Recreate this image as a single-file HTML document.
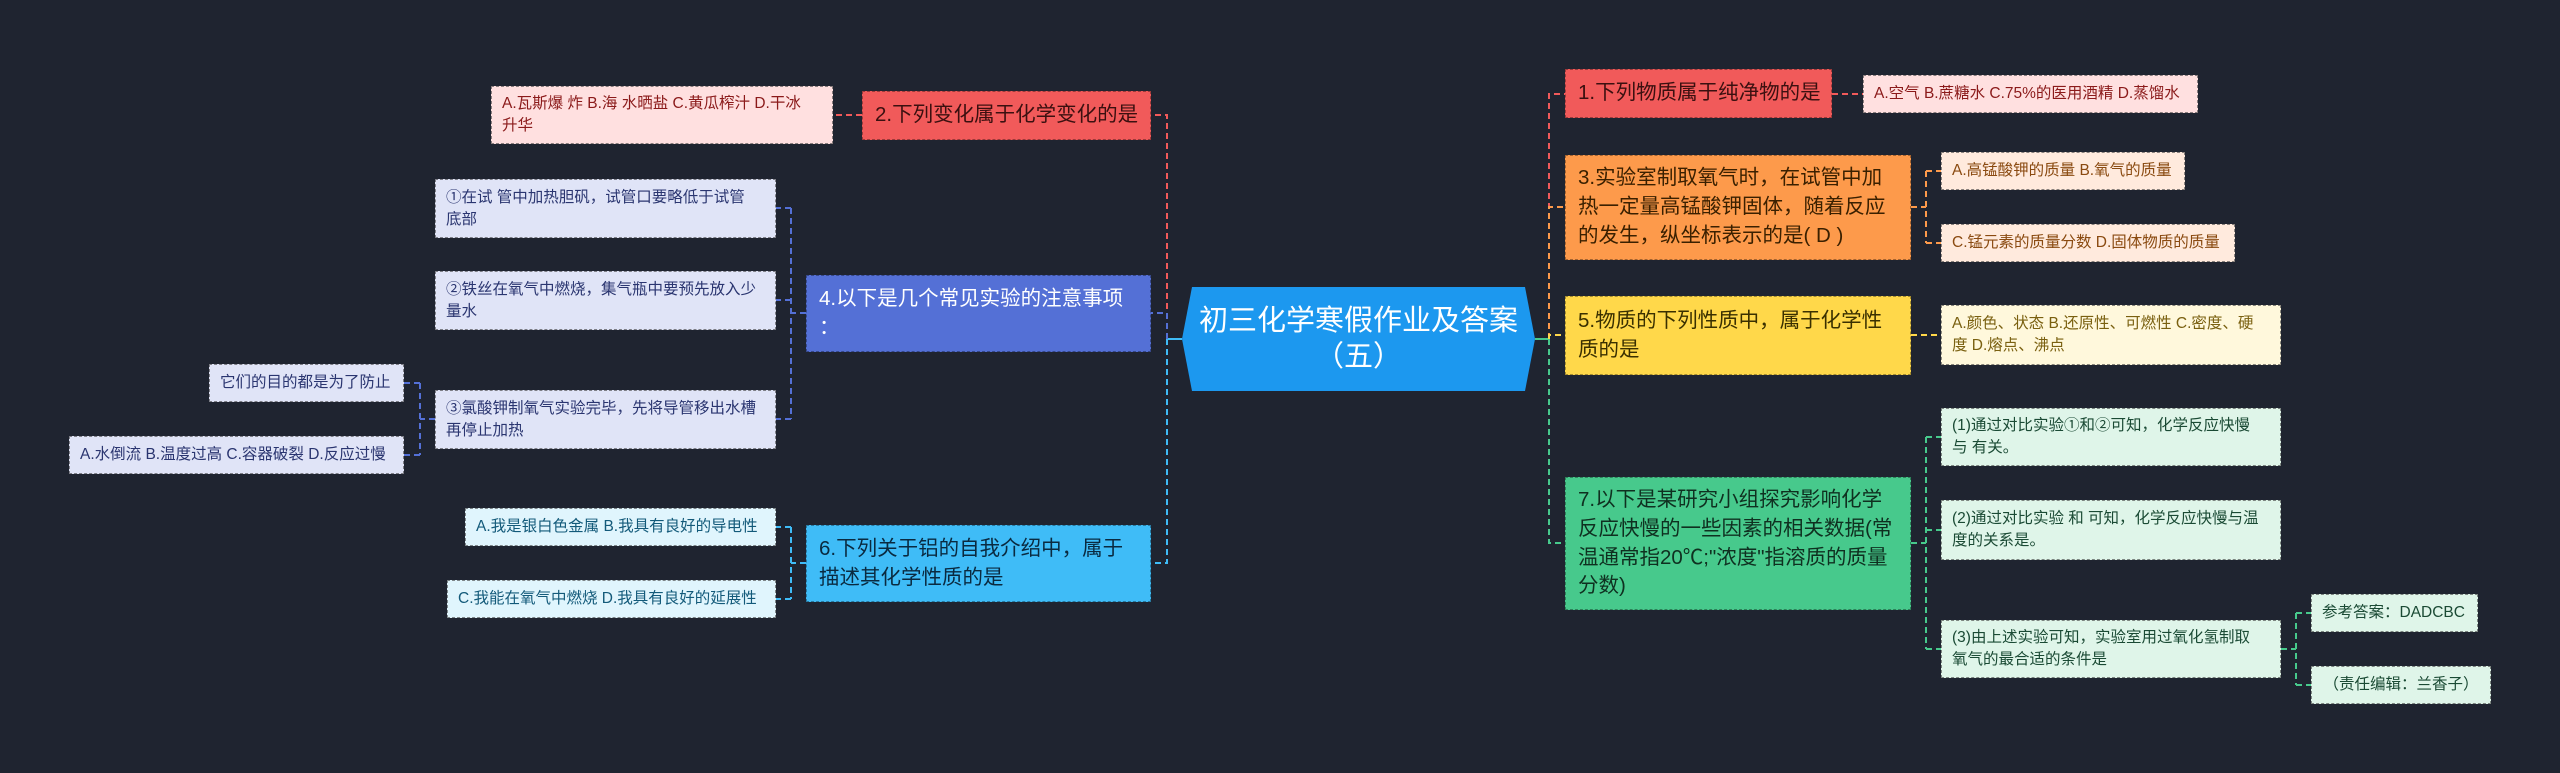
<!DOCTYPE html>
<html><head><meta charset="utf-8"><style>
html,body{margin:0;padding:0}
body{width:2560px;height:773px;background:#1f2430;position:relative;overflow:hidden;font-family:"Liberation Sans","Noto Sans CJK SC",sans-serif}
.b{position:absolute;box-sizing:border-box;padding:8px 12px;display:flex;align-items:center;line-height:1.4;white-space:nowrap;overflow:hidden}
.n{font-size:20.5px;border:1.5px dashed rgba(0,0,0,.35)}
.l{font-size:15.5px;border:1.5px dashed rgba(60,60,60,.6);line-height:1.4;padding:6px 10px}
svg{position:absolute;left:0;top:0}
</style></head><body>
<svg width="2560" height="773" fill="none" stroke-width="2" stroke-dasharray="6,4">
<path d="M1535 339 H1549" stroke="#47c98c" stroke-dasharray="none"/>
<path d="M1549 339 V94 H1565" stroke="#f15a5a"/>
<path d="M1549 339 V207 H1565" stroke="#fd9a4b"/>
<path d="M1549 339 V335 H1565" stroke="#ffd84a"/>
<path d="M1549 339 V543 H1565" stroke="#47c98c"/>
<path d="M1182 339 H1167" stroke="#3fbcf7" stroke-dasharray="none"/>
<path d="M1167 339 V115 H1151" stroke="#f15a5a"/>
<path d="M1167 339 V313 H1151" stroke="#5470d6"/>
<path d="M1167 339 V563 H1151" stroke="#3fbcf7"/>
<path d="M1832 94 H1863" stroke="#f15a5a"/>
<path d="M1911 207 H1926 M1926 171 V243 M1926 171 H1941 M1926 243 H1941" stroke="#fd9a4b"/>
<path d="M1911 335 H1941" stroke="#ffd84a"/>
<path d="M1911 543 H1926 M1926 437 V649 M1926 437 H1941 M1926 530 H1941 M1926 649 H1941" stroke="#47c98c"/>
<path d="M2281 649 H2296 M2296 613 V685 M2296 613 H2311 M2296 685 H2311" stroke="#47c98c"/>
<path d="M862 115 H833" stroke="#f15a5a"/>
<path d="M806 313 H791 M791 208 V419 M791 208 H776 M791 300 H776 M791 419 H776" stroke="#5470d6"/>
<path d="M435 419 H420 M420 383 V455 M420 383 H404 M420 455 H404" stroke="#5470d6"/>
<path d="M806 563 H791 M791 527 V599 M791 527 H776 M791 599 H776" stroke="#3fbcf7"/>
<polygon points="1192,287 1525,287 1535,339 1525,391 1192,391 1182,339" fill="#1c98ef" stroke="none"/>
</svg>
<div class="b" style="left:1182px;top:287px;width:353px;height:104px;justify-content:center;text-align:center;color:#fff;font-size:29px;line-height:1.25;white-space:normal">初三化学寒假作业及答案<br>（五）</div>

<div class="b n" style="left:862px;top:91px;width:289px;height:49px;background:#f15a5a;color:#3b1010">2.下列变化属于化学变化的是</div>
<div class="b l" style="left:491px;top:86px;width:342px;height:58px;background:#ffe0e0;color:#8b1a1a">A.瓦斯爆 炸 B.海 水晒盐 C.黄瓜榨汁 D.干冰<br>升华</div>

<div class="b n" style="left:806px;top:275px;width:345px;height:77px;background:#5470d6;color:#fff">4.以下是几个常见实验的注意事项<br>：</div>
<div class="b l" style="left:435px;top:179px;width:341px;height:59px;background:#e0e4f7;color:#2a3570">①在试 管中加热胆矾，试管口要略低于试管<br>底部</div>
<div class="b l" style="left:435px;top:271px;width:341px;height:59px;background:#e0e4f7;color:#2a3570">②铁丝在氧气中燃烧，集气瓶中要预先放入少<br>量水</div>
<div class="b l" style="left:435px;top:390px;width:341px;height:59px;background:#e0e4f7;color:#2a3570">③氯酸钾制氧气实验完毕，先将导管移出水槽<br>再停止加热</div>
<div class="b l" style="left:209px;top:364px;width:195px;height:38px;background:#e0e4f7;color:#2a3570">它们的目的都是为了防止</div>
<div class="b l" style="left:69px;top:436px;width:335px;height:38px;background:#e0e4f7;color:#2a3570">A.水倒流 B.温度过高 C.容器破裂 D.反应过慢</div>

<div class="b n" style="left:806px;top:525px;width:345px;height:77px;background:#3fbcf7;color:#0a2a40">6.下列关于铝的自我介绍中，属于<br>描述其化学性质的是</div>
<div class="b l" style="left:465px;top:508px;width:311px;height:38px;background:#e0f5fd;color:#135a7a">A.我是银白色金属 B.我具有良好的导电性</div>
<div class="b l" style="left:447px;top:580px;width:329px;height:38px;background:#e0f5fd;color:#135a7a">C.我能在氧气中燃烧 D.我具有良好的延展性</div>

<div class="b n" style="left:1565px;top:69px;width:267px;height:49px;background:#f15a5a;color:#3b1010">1.下列物质属于纯净物的是</div>
<div class="b l" style="left:1863px;top:75px;width:335px;height:38px;background:#ffe0e0;color:#8b1a1a">A.空气 B.蔗糖水 C.75%的医用酒精 D.蒸馏水</div>

<div class="b n" style="left:1565px;top:155px;width:346px;height:105px;background:#fd9a4b;color:#3a2000">3.实验室制取氧气时，在试管中加<br>热一定量高锰酸钾固体，随着反应<br>的发生，纵坐标表示的是( D )</div>
<div class="b l" style="left:1941px;top:152px;width:244px;height:38px;background:#ffeadd;color:#8a4a10">A.高锰酸钾的质量 B.氧气的质量</div>
<div class="b l" style="left:1941px;top:224px;width:294px;height:38px;background:#ffeadd;color:#8a4a10">C.锰元素的质量分数 D.固体物质的质量</div>

<div class="b n" style="left:1565px;top:296px;width:346px;height:79px;background:#ffd84a;color:#3a3000">5.物质的下列性质中，属于化学性<br>质的是</div>
<div class="b l" style="left:1941px;top:305px;width:340px;height:60px;background:#fff8dc;color:#7a6010">A.颜色、状态 B.还原性、可燃性 C.密度、硬<br>度 D.熔点、沸点</div>

<div class="b n" style="left:1565px;top:477px;width:346px;height:133px;background:#47c98c;color:#0f3020">7.以下是某研究小组探究影响化学<br>反应快慢的一些因素的相关数据(常<br>温通常指20℃;"浓度"指溶质的质量<br>分数)</div>
<div class="b l" style="left:1941px;top:408px;width:340px;height:58px;background:#dff5e9;color:#1a4a34">(1)通过对比实验①和②可知，化学反应快慢<br>与 有关。</div>
<div class="b l" style="left:1941px;top:500px;width:340px;height:60px;background:#dff5e9;color:#1a4a34">(2)通过对比实验 和 可知，化学反应快慢与温<br>度的关系是。</div>
<div class="b l" style="left:1941px;top:620px;width:340px;height:58px;background:#dff5e9;color:#1a4a34">(3)由上述实验可知，实验室用过氧化氢制取<br>氧气的最合适的条件是</div>
<div class="b l" style="left:2311px;top:594px;width:167px;height:38px;background:#dff5e9;color:#1a4a34">参考答案：DADCBC</div>
<div class="b l" style="left:2311px;top:666px;width:180px;height:38px;background:#dff5e9;color:#1a4a34;justify-content:center">（责任编辑：兰香子）</div>
</body></html>
